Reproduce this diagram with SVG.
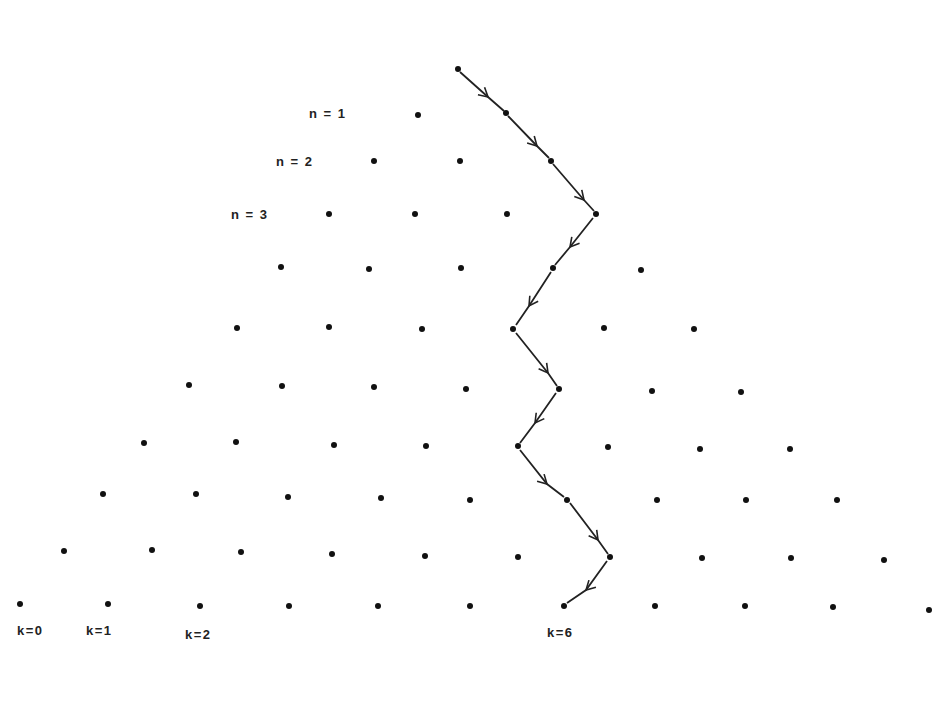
<svg xmlns="http://www.w3.org/2000/svg" width="933" height="724" viewBox="0 0 933 724">
<style>
.d{fill:#111}
.p{fill:none;stroke:#222;stroke-width:1.8;marker-mid:url(#ah)}
.t{font-family:"Liberation Sans",Arial,sans-serif;font-size:13px;font-weight:bold;fill:#222;letter-spacing:1.5px}
</style>
<defs>
<marker id="ah" viewBox="0 0 12 12" refX="10" refY="6" markerWidth="12" markerHeight="12" markerUnits="userSpaceOnUse" orient="auto">
<path d="M1,1 L10,6 L1,11" fill="none" stroke="#222" stroke-width="1.6"/>
</marker>
</defs>
<rect width="933" height="724" fill="#fff"/>
<g id="connectors">
<path class="p" d="M460,72 L488,97 L504,111"/>
<path class="p" d="M508,116 L537,146 L549,158"/>
<path class="p" d="M553,164 L584,200 L594,211"/>
<path class="p" d="M593,218 L570,247 L555,265"/>
<path class="p" d="M551,272 L529,306 L516,325"/>
<path class="p" d="M516,333 L548,373 L557,386"/>
<path class="p" d="M556,393 L535,423 L520,443"/>
<path class="p" d="M520,450 L547,484 L564,497"/>
<path class="p" d="M570,503 L598,540 L608,554"/>
<path class="p" d="M607,561 L586,590 L567,603"/>
</g>
<g id="dots">
<circle class="d" cx="458" cy="69" r="3"/>
<circle class="d" cx="418" cy="115" r="3"/><circle class="d" cx="506" cy="113" r="3"/>
<circle class="d" cx="374" cy="161" r="3"/><circle class="d" cx="460" cy="161" r="3"/><circle class="d" cx="551" cy="161" r="3"/>
<circle class="d" cx="329" cy="214" r="3"/><circle class="d" cx="415" cy="214" r="3"/><circle class="d" cx="507" cy="214" r="3"/><circle class="d" cx="596" cy="214" r="3"/>
<circle class="d" cx="281" cy="267" r="3"/><circle class="d" cx="369" cy="269" r="3"/><circle class="d" cx="461" cy="268" r="3"/><circle class="d" cx="553" cy="268" r="3"/><circle class="d" cx="641" cy="270" r="3"/>
<circle class="d" cx="237" cy="328" r="3"/><circle class="d" cx="329" cy="327" r="3"/><circle class="d" cx="422" cy="329" r="3"/><circle class="d" cx="513" cy="329" r="3"/><circle class="d" cx="604" cy="328" r="3"/><circle class="d" cx="694" cy="329" r="3"/>
<circle class="d" cx="189" cy="385" r="3"/><circle class="d" cx="282" cy="386" r="3"/><circle class="d" cx="374" cy="387" r="3"/><circle class="d" cx="466" cy="389" r="3"/><circle class="d" cx="559" cy="389" r="3"/><circle class="d" cx="652" cy="391" r="3"/><circle class="d" cx="741" cy="392" r="3"/>
<circle class="d" cx="144" cy="443" r="3"/><circle class="d" cx="236" cy="442" r="3"/><circle class="d" cx="334" cy="445" r="3"/><circle class="d" cx="426" cy="446" r="3"/><circle class="d" cx="518" cy="446" r="3"/><circle class="d" cx="608" cy="447" r="3"/><circle class="d" cx="700" cy="449" r="3"/><circle class="d" cx="790" cy="449" r="3"/>
<circle class="d" cx="103" cy="494" r="3"/><circle class="d" cx="196" cy="494" r="3"/><circle class="d" cx="288" cy="497" r="3"/><circle class="d" cx="381" cy="498" r="3"/><circle class="d" cx="470" cy="500" r="3"/><circle class="d" cx="567" cy="500" r="3"/><circle class="d" cx="657" cy="500" r="3"/><circle class="d" cx="746" cy="500" r="3"/><circle class="d" cx="837" cy="500" r="3"/>
<circle class="d" cx="64" cy="551" r="3"/><circle class="d" cx="152" cy="550" r="3"/><circle class="d" cx="241" cy="552" r="3"/><circle class="d" cx="332" cy="554" r="3"/><circle class="d" cx="425" cy="556" r="3"/><circle class="d" cx="518" cy="557" r="3"/><circle class="d" cx="610" cy="557" r="3"/><circle class="d" cx="702" cy="558" r="3"/><circle class="d" cx="791" cy="558" r="3"/><circle class="d" cx="884" cy="560" r="3"/>
<circle class="d" cx="20" cy="604" r="3"/><circle class="d" cx="108" cy="604" r="3"/><circle class="d" cx="200" cy="606" r="3"/><circle class="d" cx="289" cy="606" r="3"/><circle class="d" cx="378" cy="606" r="3"/><circle class="d" cx="470" cy="606" r="3"/><circle class="d" cx="564" cy="606" r="3"/><circle class="d" cx="655" cy="606" r="3"/><circle class="d" cx="745" cy="606" r="3"/><circle class="d" cx="833" cy="607" r="3"/><circle class="d" cx="929" cy="610" r="3"/>
</g>
<g id="labels">
<text class="t" x="309" y="118">n = 1</text>
<text class="t" x="276" y="166">n = 2</text>
<text class="t" x="231" y="219">n = 3</text>
<text class="t" x="17" y="635">k=0</text>
<text class="t" x="86" y="635">k=1</text>
<text class="t" x="185" y="639">k=2</text>
<text class="t" x="547" y="637">k=6</text>
</g>
</svg>
